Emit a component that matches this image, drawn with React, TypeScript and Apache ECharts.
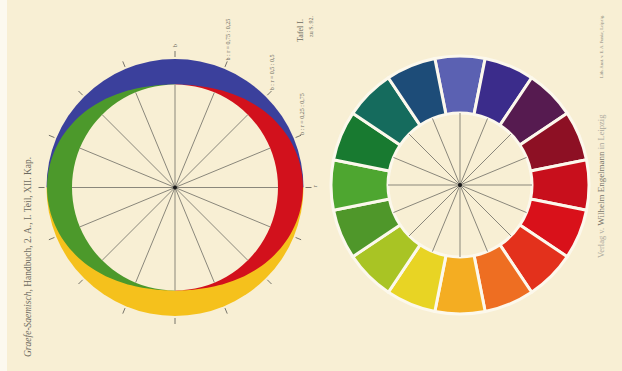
import React, { useEffect, useRef } from "react";
import * as echarts from "echarts";

// ---------- data ----------
// right wheel: 16 hues, clockwise from the top
const hueNames = [
  "Blauviolett", "Indigo", "Purpur", "Karmin", "Rot", "Zinnober", "Rotorange", "Orange",
  "Goldgelb", "Gelb", "Gelbgrün", "Grün", "Laubgrün", "Dunkelgrün", "Blaugrün", "Cyanblau",
];
const hueValues = [1, 1, 1, 1, 1, 1, 1, 1, 1, 1, 1, 1, 1, 1, 1, 1];
const hueColors = [
  "#5b61b2", "#3b2c8b", "#561b50", "#8d1024", "#c80f1c", "#d9111a", "#e3311c", "#ee6e22",
  "#f4ad22", "#e8d424", "#a9c424", "#4f972a", "#4ea630", "#187a30", "#156b5d", "#1d4c78",
];

// left wheel: blue (top) / yellow (bottom) halves, red (right) / green (left) crescents
const halfNames = ["b", "g"];
const halfValues = [1, 1];
const halfColors = ["#3b409c", "#f5c11c"];
const sideNames = ["r", "gr"];
const sideDirections = [0, 180]; // degrees, 0 = right
const sideColors = ["#d2111c", "#4c992b"];

// labels round the left wheel (degrees clockwise from the top)
const tickLabelAngles = [0, 22.5, 45, 67.5, 90];
const tickLabelTexts = ["b", "b : r = 0,75 : 0,25", "b : r = 0,5 : 0,5", "b : r = 0,25 : 0,75", "r"];

const plateTitle = "Tafel I.";
const plateRef = "zu S. 92.";
const bookLine = ["Graefe-Saemisch,", " Handbuch, 2. A., I. Teil, XII. Kap."];
const publisher = ["Verlag v. ", "Wilhelm Engelmann", " in Leipzig"];
const printer = "Lith. Anst. v. E. A. Funke, Leipzig.";

// ---------- layout ----------
const BG = "#f8efd4";
const L = { cx: 175, cy: 187.5, rIn: 103, rOut: 128.5, rTick: 130.5, band: 25 };
const R = { cx: 460, cy: 185, rIn: 72, rOut: 129 };
const SPOKE = "#8a877b";
const TEXT = "#6d6a60";
const SERIF = "'Liberation Serif', 'DejaVu Serif', serif";

function crescentPoints(dirDeg: number): number[][] {
  const pts: number[][] = [];
  const dir = (dirDeg * Math.PI) / 180;
  for (let p = -90; p <= 90; p += 2) {
    const phi = (p * Math.PI) / 180;
    const c = Math.cos(phi);
    const r = L.rIn + L.band * c * c;
    const a = dir + phi;
    pts.push([L.cx + r * Math.cos(a), L.cy - r * Math.sin(a)]);
  }
  for (let p = 90; p >= -90; p -= 10) {
    const a = dir + (p * Math.PI) / 180;
    const r = L.rIn - 4;
    pts.push([L.cx + r * Math.cos(a), L.cy - r * Math.sin(a)]);
  }
  return pts;
}

export default function App() {
  const ref = useRef<HTMLDivElement>(null);
  useEffect(() => {
    if (!ref.current) return;
    const chart = echarts.init(ref.current, null, { renderer: "svg" });

    const pieBase = {
      type: "pie",
      silent: true,
      label: { show: false },
      labelLine: { show: false },
      emphasis: { disabled: true },
      selectedMode: false,
      clockwise: true,
    };

    const angleAxes = [0, 1, 2].map((i) => ({
      polarIndex: i,
      type: "value",
      min: 0,
      max: 360,
      interval: 22.5,
      startAngle: 90,
      clockwise: true,
      z: 10,
      axisLine: { show: false },
      axisLabel: { show: false },
      axisTick:
        i === 1
          ? { show: true, length: 6, inside: false, lineStyle: { color: "#77746a", width: 1 } }
          : { show: false },
      splitLine:
        i === 1 ? { show: false } : { show: true, lineStyle: { color: SPOKE, width: 1 } },
    }));

    const labelEls = tickLabelTexts.map((t, i) => {
      const a = (tickLabelAngles[i] * Math.PI) / 180;
      const end = i === 0 || i === tickLabelTexts.length - 1;
      const rr = end ? 140 : 137.5;
      return {
        type: "text",
        x: L.cx + rr * Math.sin(a),
        y: L.cy - rr * Math.cos(a),
        rotation: Math.PI / 2,
        z: 20,
        style: {
          text: t,
          font: `${end ? 7 : 6}px ${SERIF}`,
          fill: TEXT,
          align: "left",
          verticalAlign: "middle",
        },
      };
    });

    const option = {
      animation: false,
      backgroundColor: BG,
      polar: [
        { center: [L.cx, L.cy], radius: L.rIn },
        { center: [L.cx, L.cy], radius: L.rTick },
        { center: [R.cx, R.cy], radius: R.rIn },
      ],
      angleAxis: angleAxes,
      radiusAxis: [0, 1, 2].map((i) => ({ polarIndex: i, type: "value", min: 0, max: 1, show: false })),
      series: [
        {
          ...pieBase,
          z: 1,
          center: [L.cx, L.cy],
          radius: [0, L.rOut],
          startAngle: 180,
          itemStyle: { borderWidth: 0 },
          data: halfValues.map((v, i) => ({ value: v, name: halfNames[i], itemStyle: { color: halfColors[i] } })),
        },
        {
          type: "custom",
          coordinateSystem: "none",
          silent: true,
          z: 2,
          data: sideNames.map((n, i) => ({ name: n, value: sideDirections[i] })),
          renderItem: (params: any) => {
            const i = params.dataIndex;
            return {
              type: "polygon",
              shape: { points: crescentPoints(sideDirections[i]) },
              style: { fill: sideColors[i] },
            };
          },
        },
        {
          ...pieBase,
          z: 3,
          center: [L.cx, L.cy],
          radius: [0, L.rIn],
          itemStyle: { borderWidth: 0 },
          data: [{ value: 1, name: "w", itemStyle: { color: BG } }],
        },
        {
          ...pieBase,
          z: 2,
          center: [R.cx, R.cy],
          radius: [R.rIn, R.rOut],
          startAngle: 90 + 360 / hueValues.length / 2,
          itemStyle: { borderColor: "#fcf8ec", borderWidth: 3 },
          data: hueValues.map((v, i) => ({ value: v, name: hueNames[i], itemStyle: { color: hueColors[i] } })),
        },
      ],
      graphic: [
        { type: "rect", z: -5, shape: { x: 0, y: 0, width: 7, height: 371 }, style: { fill: "#fcf9ef" } },
        { type: "circle", z: 20, shape: { cx: L.cx, cy: L.cy, r: 2 }, style: { fill: "#1a1a1a" } },
        { type: "circle", z: 20, shape: { cx: R.cx, cy: R.cy, r: 2 }, style: { fill: "#1a1a1a" } },
        ...labelEls,
        {
          type: "text", x: 300, y: 42, rotation: Math.PI / 2, z: 20,
          style: { text: plateTitle, font: `8px ${SERIF}`, fill: TEXT, align: "left", verticalAlign: "middle" },
        },
        {
          type: "text", x: 311, y: 37, rotation: Math.PI / 2, z: 20,
          style: { text: plateRef, font: `6px ${SERIF}`, fill: TEXT, align: "left", verticalAlign: "middle" },
        },
        {
          type: "text", x: 28, y: 357, rotation: Math.PI / 2, z: 20,
          style: {
            text: `{i|${bookLine[0]}}{n|${bookLine[1]}}`,
            align: "left",
            verticalAlign: "middle",
            rich: {
              i: { font: `italic 9.5px ${SERIF}`, fill: TEXT },
              n: { font: `9.5px ${SERIF}`, fill: TEXT },
            },
          },
        },
        {
          type: "text", x: 601, y: 258, rotation: Math.PI / 2, z: 20,
          style: {
            text: `{l|${publisher[0]}}{b|${publisher[1]}}{l|${publisher[2]}}`,
            align: "left",
            verticalAlign: "middle",
            rich: {
              l: { font: `8.5px ${SERIF}`, fill: "#aaa79c" },
              b: { font: `9px ${SERIF}`, fill: "#77746a" },
            },
          },
        },
        {
          type: "text", x: 601, y: 78, rotation: Math.PI / 2, z: 20,
          style: { text: printer, font: `4.5px ${SERIF}`, fill: "#8d8a80", align: "left", verticalAlign: "middle" },
        },
      ],
    };
    chart.setOption(option as any);
    return () => chart.dispose();
  }, []);
  return <div ref={ref} style={{ width: 622, height: 371, position: "absolute", left: 0, top: 0 }} />;
}
